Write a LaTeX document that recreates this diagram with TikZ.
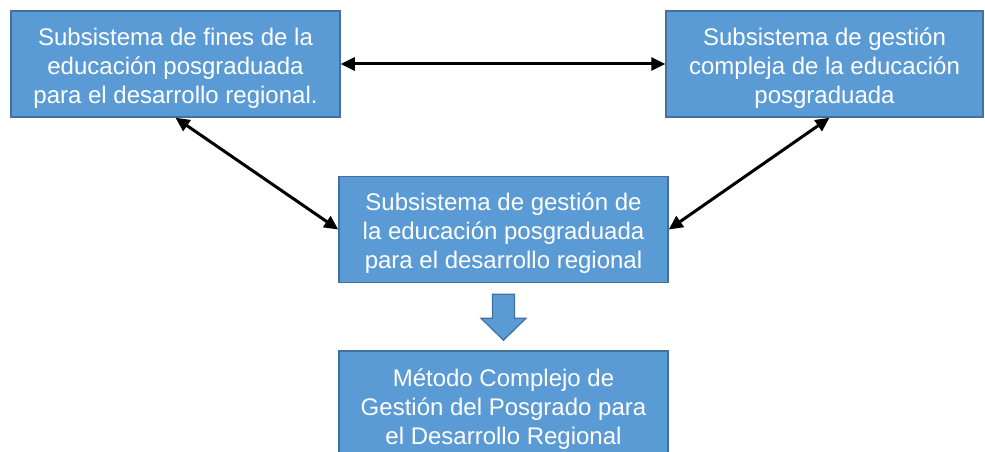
\documentclass[tikz,border=0pt]{standalone}
\usepackage{fontspec}
\setmainfont{Liberation Sans}
\usetikzlibrary{arrows.meta}
\definecolor{boxblue}{HTML}{5B9BD5}
\definecolor{boxedge}{HTML}{41719C}

\begin{document}
\begin{tikzpicture}[x=1pt,y=-1pt,
  subsis/.style={draw=boxedge,fill=boxblue,line width=1.5pt,text=white,align=center,
    font=\fontsize{24}{29}\selectfont,minimum height=106pt,inner sep=0pt,
    text height=84pt,text depth=6pt},
  link/.style={{Triangle[length=14pt,width=13pt]}-{Triangle[length=14pt,width=13pt]},line width=3pt}]
\useasboundingbox (0,0) rectangle (985,452);
\clip (0,0) rectangle (985,452);
% --- the four boxes
\node[subsis,minimum width=329pt] (fines) at (175.5,64) {Subsistema de fines de la\\educación posgraduada\\para el desarrollo regional.};
\node[subsis,minimum width=317pt] (compleja) at (824.5,64) {Subsistema de gestión\\compleja de la educación\\posgraduada};
\node[subsis,minimum width=329pt] (gestion) at (503.5,229.5) {Subsistema de gestión de\\la educación posgraduada\\para el desarrollo regional};
\node[subsis,minimum width=329pt,minimum height=108pt] (metodo) at (503.5,405) {Método Complejo de\\Gestión del Posgrado para\\el Desarrollo Regional};
% --- double arrows between the subsystems
\draw[link] (fines.east) -- (compleja.west);
\draw[link] (fines.south) -- (gestion.west);
\draw[link] ([xshift=5pt]compleja.south) -- (gestion.east);
% --- block arrow down to the method
\draw[draw=boxedge,fill=boxblue,line width=1.2pt]
  ([xshift=-11pt,yshift=-11pt]gestion.south) -- ([xshift=11pt,yshift=-11pt]gestion.south)
  -- ([xshift=11pt,yshift=-35pt]gestion.south) -- ([xshift=22.5pt,yshift=-35pt]gestion.south)
  -- ([yshift=-57pt]gestion.south) -- ([xshift=-22.5pt,yshift=-35pt]gestion.south)
  -- ([xshift=-11pt,yshift=-35pt]gestion.south) -- cycle;
\end{tikzpicture}
\end{document}
